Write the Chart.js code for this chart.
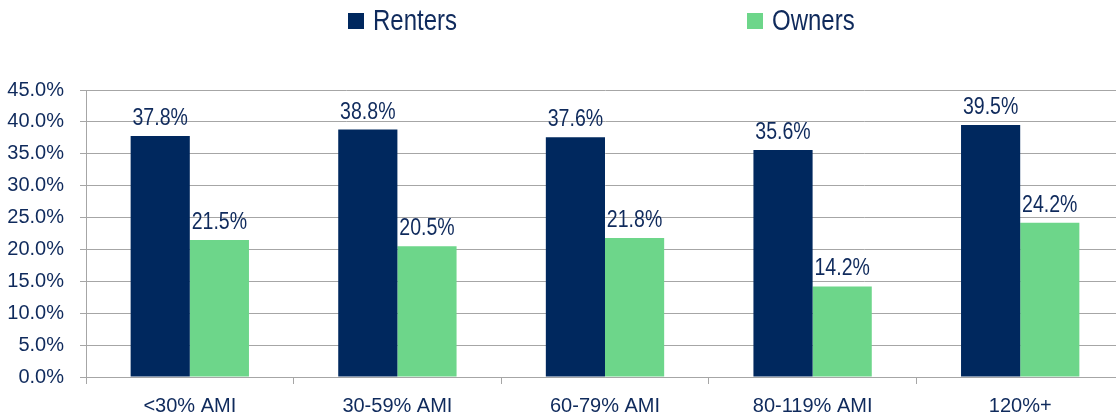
<!DOCTYPE html>
<html>
<head>
<meta charset="utf-8">
<script src="https://cdn.jsdelivr.net/npm/chart.js@4"></script>
<style>
  html, body { margin: 0; padding: 0; background: #fff; overflow: hidden; width: 1116px; height: 419px; }
  #wrap { position: relative; width: 1126px; height: 419px; }
  .box { position: absolute; top: 13px; width: 16px; height: 16px; }
  .lbl { position: absolute; top: 2px; font-family: "Liberation Sans", Arial, sans-serif;
         font-size: 30px; line-height: 36px; color: #0f2a5c;
         transform: scaleX(0.8); transform-origin: left top; white-space: nowrap; }
</style>
</head>
<body>
<div id="wrap">
  <div id="legend"></div>
  <canvas id="chartOne" width="1126" height="419"></canvas>
</div>
<script>
let categories = ['<30% AMI', '30-59% AMI', '60-79% AMI', '80-119% AMI', '120%+'];
let renters = [37.8, 38.8, 37.6, 35.6, 39.5];
let owners = [21.5, 20.5, 21.8, 14.2, 24.2];
let seriesNames = ['Renters', 'Owners'];
let seriesColors = ['#00285e', '#6dd68a'];

const textColor = '#0f2a5c';
const font = '"Liberation Sans", Arial, sans-serif';

// html legend
const legend = document.getElementById('legend');
const legendX = [348, 747];
seriesNames.forEach((n, i) => {
    legend.insertAdjacentHTML("beforeend",
        `<div class="box" style="left:${legendX[i]}px;background:${seriesColors[i]}"></div>` +
        `<div class="lbl" style="left:${legendX[i] + 25}px">${n}</div>`);
});

// value labels above the bars (a bit condensed like the original)
const barLabels = {
    id: 'barLabels',
    afterDatasetsDraw(chart) {
        const ctx = chart.ctx;
        chart.data.datasets.forEach((ds, i) => {
            chart.getDatasetMeta(i).data.forEach((bar, j) => {
                ctx.save();
                ctx.translate(bar.x, bar.y - 11);
                ctx.scale(0.85, 1);
                ctx.font = '23px ' + font;
                ctx.fillStyle = textColor;
                ctx.textAlign = 'center';
                ctx.textBaseline = 'alphabetic';
                ctx.fillText(ds.data[j].toFixed(1) + '%', 0, 0);
                ctx.restore();
            });
        });
    }
};

var ctx = document.getElementById('chartOne').getContext('2d');
var chartOne = new Chart(ctx, {
    type: 'bar',
    data: {
        labels: categories,
        datasets: [{
            label: seriesNames[0],
            backgroundColor: seriesColors[0],
            data: renters
        }, {
            label: seriesNames[1],
            backgroundColor: seriesColors[1],
            data: owners
        }]
    },
    options: {
        responsive: false,
        animation: false,
        categoryPercentage: 0.57,
        barPercentage: 1,
        layout: { padding: { top: 90, left: 0, right: 2, bottom: 0 } },
        plugins: {
            legend: { display: false },
            tooltip: { enabled: false }
        },
        scales: {
            x: {
                grid: { offset: true, drawOnChartArea: false, color: '#a6a6a6', tickLength: 7 },
                border: { color: '#a6a6a6' },
                ticks: { color: textColor, font: { family: font, size: 20 }, padding: 10 },
                afterFit: s => { s.height = 42; }
            },
            y: {
                min: 0,
                max: 45,
                grid: { color: '#a6a6a6', tickLength: 6 },
                border: { color: '#a6a6a6' },
                ticks: {
                    stepSize: 5,
                    color: textColor,
                    font: { family: font, size: 20 },
                    padding: 16,
                    callback: v => v.toFixed(1) + '%'
                },
                afterFit: s => { s.width = 86; }
            }
        }
    },
    plugins: [barLabels]
});
</script>
</body>
</html>
